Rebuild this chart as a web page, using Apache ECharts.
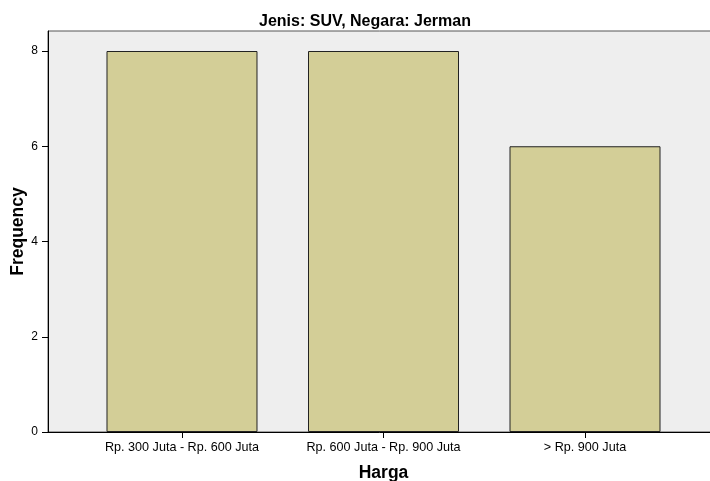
<!DOCTYPE html>
<html>
<head>
<meta charset="utf-8">
<script src="https://cdn.jsdelivr.net/npm/echarts@6/dist/echarts.min.js"></script>
<style>
html,body{margin:0;padding:0;background:#fff;}
#c{width:710px;height:481px;}
</style>
</head>
<body>
<div id="c"></div>
<script>
const categories = ['Rp. 300 Juta - Rp. 600 Juta', 'Rp. 600 Juta - Rp. 900 Juta', '> Rp. 900 Juta'];
const frequency = [8, 8, 6];
const yTicks = [0, 2, 4, 6, 8];

const chart = echarts.init(document.getElementById('c'), null, {renderer: 'canvas'});
const font = 'Arial, "Liberation Sans", sans-serif';
const catIdx = categories.map((c, i) => i);
chart.setOption({
  animation: false,
  title: {
    text: 'Jenis: SUV, Negara: Jerman',
    left: 360, top: 9, textAlign: 'center',
    textStyle: {fontFamily: font, fontSize: 16, fontWeight: 'bold', color: '#000'}
  },
  grid: {left: 48, right: -9, top: 31, bottom: 49, containLabel: false, outerBoundsMode: 'none',
         show: true, backgroundColor: '#eeeeee', borderColor: '#555', borderWidth: 1},
  xAxis: {
    type: 'value', min: -0.665, max: 2.665,
    splitLine: {show: false},
    axisLine: {show: true, onZero: false, lineStyle: {color: '#000', width: 1}},
    axisTick: {show: true, length: 6, lineStyle: {color: '#000'}, customValues: catIdx},
    axisLabel: {fontFamily: font, fontSize: 12.6, color: '#000', margin: 9, customValues: catIdx,
                formatter: v => categories[Math.round(v)]},
    name: 'Harga', nameLocation: 'middle', nameGap: 32,
    nameTextStyle: {fontFamily: font, fontSize: 17.5, fontWeight: 'bold', color: '#000'}
  },
  yAxis: {
    type: 'value', min: 0, max: 8.42,
    splitLine: {show: false},
    axisLine: {show: true, onZero: false, lineStyle: {color: '#000'}},
    axisTick: {show: true, length: 6, lineStyle: {color: '#000'}, customValues: yTicks},
    axisLabel: {fontFamily: font, fontSize: 12, color: '#000', margin: 10, customValues: yTicks},
    name: 'Frequency', nameLocation: 'middle', nameGap: 21, nameRotate: 90, nameMoveOverlap: false,
    nameTextStyle: {fontFamily: font, fontSize: 17.5, fontWeight: 'bold', color: '#000'}
  },
  series: [{
    type: 'bar',
    data: frequency.map((v, i) => [i, v]), barWidth: 151,
    itemStyle: {color: '#d3ce97', borderColor: '#222', borderWidth: 1}
  }]
});
</script>
</body>
</html>
